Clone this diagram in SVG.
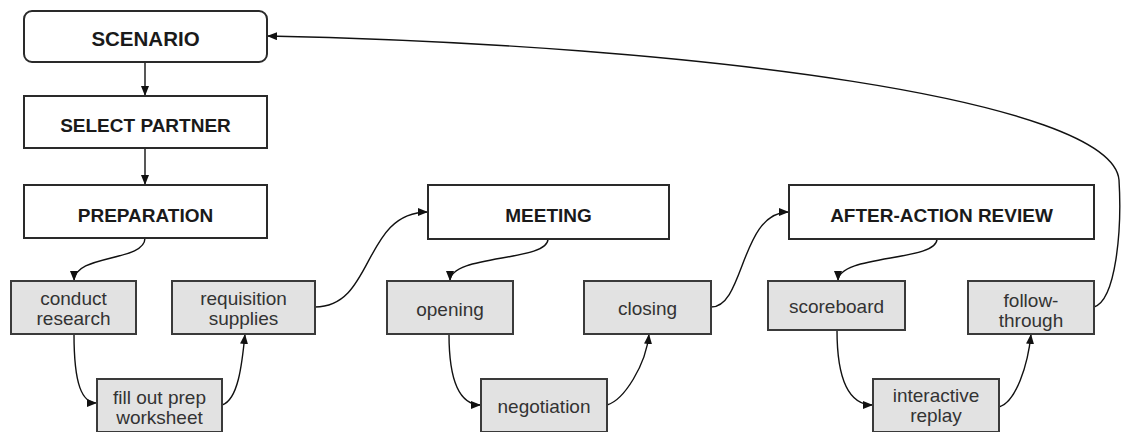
<svg xmlns="http://www.w3.org/2000/svg" width="1121" height="432" viewBox="0 0 1121 432">
<style>
.hdr rect{fill:#fff;stroke:#2a2a2a;stroke-width:2}
.hdr text{font-family:"Liberation Sans",Arial,sans-serif;font-weight:bold;font-size:19px;fill:#1a1a1a;text-anchor:middle}
.sub rect{fill:#e2e2e2;stroke:#3a3a3a;stroke-width:2}
.sub text{font-family:"Liberation Sans",Arial,sans-serif;font-size:19px;fill:#333;text-anchor:middle}
.con path{fill:none;stroke:#111;stroke-width:1.4;marker-end:url(#ah)}
</style>
<defs>
<marker id="ah" viewBox="0 0 10 8" refX="10" refY="4" markerWidth="10" markerHeight="8" markerUnits="userSpaceOnUse" orient="auto">
<path d="M0,0 L10,4 L0,8 z" fill="#111"/>
</marker>
</defs>
<rect width="1121" height="432" fill="#fff"/>
<g class="con">
<path d="M145,62 L145,96"/>
<path d="M145,148 L145,185"/>
<path d="M145,238 C145,262 74,254 74,281"/>
<path d="M74,334 C74,385 82,403 97,403"/>
<path d="M222,405 C238,400 242,365 245,334"/>
<path d="M315,307 C375,307 362,212 428,212"/>
<path d="M548,239 C548,262 450,254 450,281"/>
<path d="M449,334 C449,385 462,405 481,405"/>
<path d="M607,405 C624,400 646,365 649,334"/>
<path d="M711,307 C745,307 740,212 789,212"/>
<path d="M937,239 C937,262 838,254 838,281"/>
<path d="M837,330 C837,385 852,405 873,405"/>
<path d="M999,407 C1016,402 1028,365 1031,334"/>
<path d="M1094,307 C1116,300 1122,230 1119,180 C1112,100 700,45 267,36"/>
</g>
<g id="scenario" class="hdr"><rect x="24" y="11" width="243" height="51" rx="8"/><text x="145.5" y="46" style="font-size:20.5px">SCENARIO</text></g>
<g id="select-partner" class="hdr"><rect x="24" y="96" width="243" height="52"/><text x="145.5" y="131.5">SELECT PARTNER</text></g>
<g id="preparation" class="hdr"><rect x="24" y="185" width="243" height="53"/><text x="145.5" y="221.5">PREPARATION</text></g>
<g id="meeting" class="hdr"><rect x="428" y="185" width="241" height="54"/><text x="548.5" y="222">MEETING</text></g>
<g id="after-action-review" class="hdr"><rect x="789" y="185" width="305" height="54"/><text x="941.5" y="222">AFTER-ACTION REVIEW</text></g>
<g id="conduct-research" class="sub"><rect x="11" y="281" width="125" height="53"/><text x="73.5" y="304.5">conduct</text><text x="73.5" y="324.5">research</text></g>
<g id="requisition-supplies" class="sub"><rect x="172" y="281" width="143" height="53"/><text x="243.5" y="304.5">requisition</text><text x="243.5" y="324.5">supplies</text></g>
<g id="fill-out-prep-worksheet" class="sub"><rect x="97" y="379" width="125" height="53"/><text x="159.5" y="403.5">fill out prep</text><text x="159.5" y="423.5">worksheet</text></g>
<g id="opening" class="sub"><rect x="387" y="281" width="126" height="53"/><text x="450" y="316">opening</text></g>
<g id="negotiation" class="sub"><rect x="481" y="379" width="126" height="53"/><text x="544" y="413">negotiation</text></g>
<g id="closing" class="sub"><rect x="584" y="281" width="127" height="53"/><text x="647.5" y="314.5">closing</text></g>
<g id="scoreboard" class="sub"><rect x="768" y="281" width="137" height="49"/><text x="836.5" y="312.5">scoreboard</text></g>
<g id="interactive-replay" class="sub"><rect x="873" y="379" width="126" height="53"/><text x="936" y="402">interactive</text><text x="936" y="422">replay</text></g>
<g id="follow-through" class="sub"><rect x="968" y="281" width="126" height="53"/><text x="1031" y="306.5">follow-</text><text x="1031" y="326.5">through</text></g>
</svg>
